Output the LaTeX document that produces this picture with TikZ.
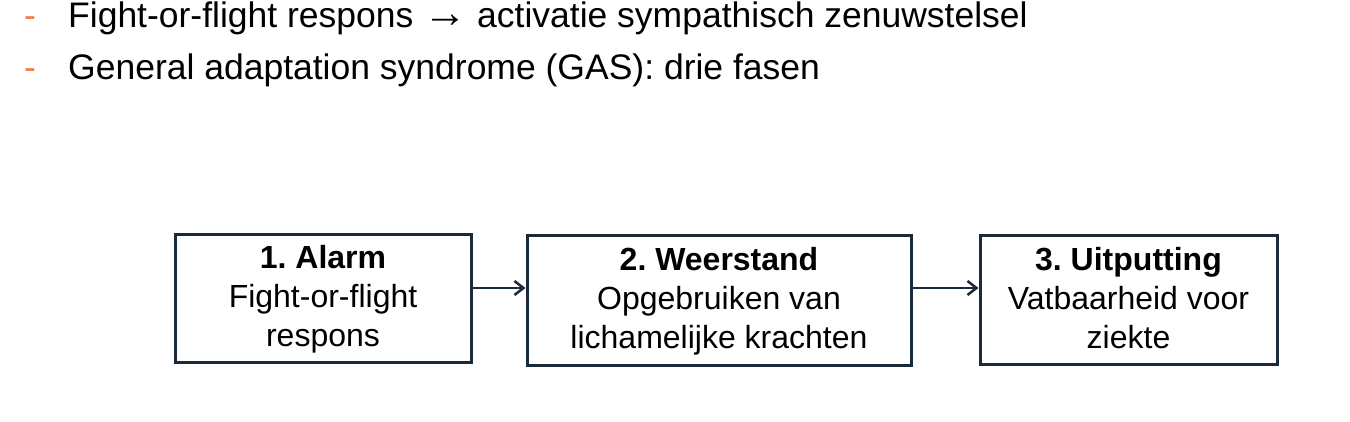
\documentclass[tikz,border=0pt]{standalone}
\usepackage{fontspec}
\setmainfont{Liberation Sans}
\usetikzlibrary{arrows.meta}
\definecolor{navy}{HTML}{1B2A3A}
\definecolor{dashor}{HTML}{F07C4A}
\tikzset{
  box/.style={draw=navy, line width=3pt, align=center, inner sep=0pt,
    font=\fontsize{32}{39}\selectfont, text=black},
  bul/.style={anchor=west, font=\fontsize{35.5}{40}\selectfont, inner sep=0pt},
  arr/.style={draw=navy, line width=2.5pt, -{Straight Barb[length=9pt,width=14pt]}}
}
\begin{document}
\frenchspacing
\begin{tikzpicture}[x=1pt,y=-1pt]
\useasboundingbox (0,0) rectangle (1350,421);
\node[bul] (t1) at (68,18) {Fight-or-flight respons {\fontsize{44}{40}\selectfont→} activatie sympathisch zenuwstelsel};
\node[bul] (t2) at (68,70) {General adaptation syndrome (GAS): drie fasen};
\node[bul, anchor=base west, text=dashor] (d1) at (t1.base -| 24,0) {-};
\node[bul, anchor=base west, text=dashor] (d2) at (t2.base -| 24,0) {-};
\node[box, minimum width=296pt, minimum height=128pt, text depth=4pt] (b1) at (323,298)
  {\textbf{1. Alarm}\\Fight-or-flight\\respons};
\node[box, minimum width=384pt, minimum height=130pt, text depth=4pt] (b2) at (719,300)
  {\textbf{2. Weerstand}\\Opgebruiken van\\lichamelijke krachten};
\node[box, minimum width=297pt, minimum height=129pt, text depth=4pt] (b3) at (1128.5,299.5)
  {\textbf{3. Uitputting}\\Vatbaarheid voor\\ziekte};
\draw[arr] ([yshift=10pt]b1.east) -- ([yshift=12pt]b2.west);
\draw[arr] ([yshift=12pt]b2.east) -- ([yshift=11.5pt]b3.west);
\end{tikzpicture}
\end{document}
